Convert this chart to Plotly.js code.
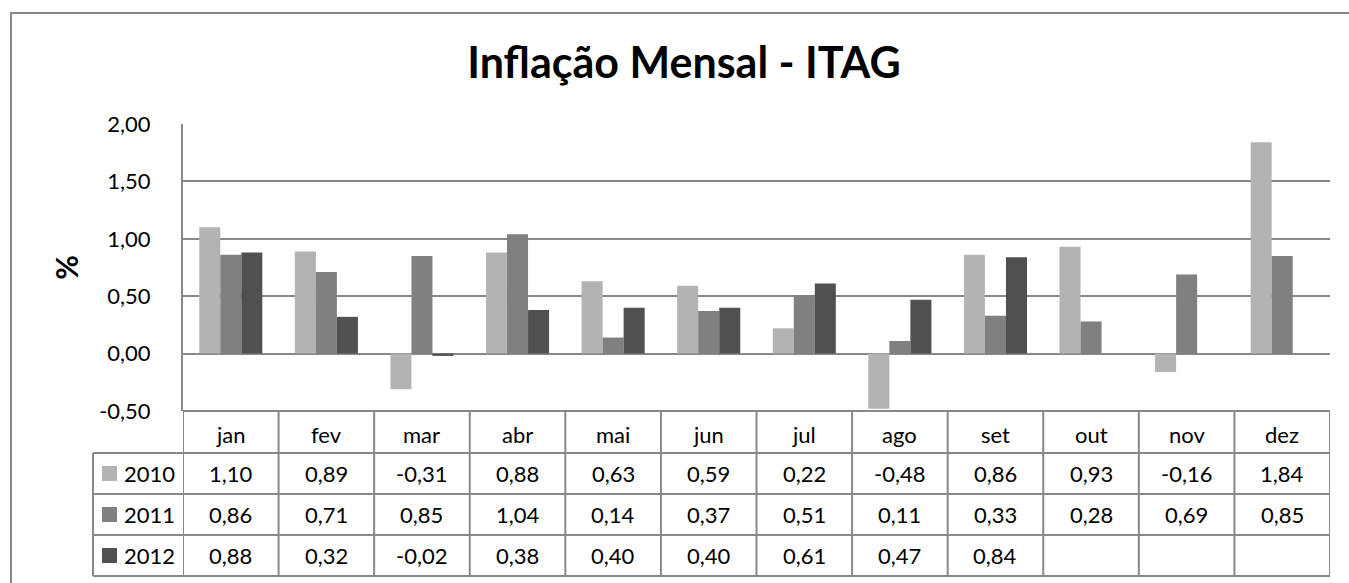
<!DOCTYPE html>
<html>
<head>
<meta charset="utf-8">
<script src="https://cdn.plot.ly/plotly-3.0.1.min.js"></script>
<style>html,body{margin:0;padding:0;background:#fff;}#chart{width:1349px;height:583px;}</style>
</head>
<body>
<div id="chart"></div>
<script>
const months = ['jan','fev','mar','abr','mai','jun','jul','ago','set','out','nov','dez'];
const seriesNames = ['2010','2011','2012'];
const v2010 = [1.10, 0.89, -0.31, 0.88, 0.63, 0.59, 0.22, -0.48, 0.86, 0.93, -0.16, 1.84];
const v2011 = [0.86, 0.71, 0.85, 1.04, 0.14, 0.37, 0.51, 0.11, 0.33, 0.28, 0.69, 0.85];
const v2012 = [0.88, 0.32, -0.02, 0.38, 0.40, 0.40, 0.61, 0.47, 0.84, null, null, null];
const seriesValues = [v2010, v2011, v2012];
const seriesColors = ['#b3b3b3', '#808080', '#505050'];
const yTicks = [-0.5, 0, 0.5, 1, 1.5, 2];

const W = 1349, Hc = 583;
const M = {l: 183, r: 19, t: 124, b: 172};
const PW = W - M.l - M.r, PH = Hc - M.t - M.b;
const FONT = 'Lato, "Liberation Sans", sans-serif';
const LINE = '#888888';
const TXT = 22;

function py(p) { return (Hc - M.b - p) / PH; }  // pixel y -> paper y
function px(p) { return (p - M.l) / PW; }       // pixel x -> paper x
function fmt(v) { return v.toFixed(2).replace('.', ','); }

const traces = seriesNames.map((name, i) => ({
  type: 'bar', name: name, x: months, y: seriesValues[i],
  marker: {color: seriesColors[i], line: {width: 0}},
  hoverinfo: 'x+y+name'
}));

// table geometry (pixels)
const rowTop = [411, 453, 494, 535, 576];
const tableLeft = 93;

const shapes = [];
const annotations = [];
// outer chart border
shapes.push({type: 'rect', xref: 'paper', yref: 'paper', x0: px(11), x1: px(1360), y0: py(13), y1: py(600),
  line: {color: LINE, width: 2}, layer: 'below'});
// table horizontal lines
shapes.push({type: 'line', xref: 'x', yref: 'paper', x0: -0.5, x1: months.length - 0.5, y0: py(rowTop[0]), y1: py(rowTop[0]), line: {color: LINE, width: 2}});
for (let r = 1; r < rowTop.length; r++) {
  shapes.push({type: 'line', xref: 'paper', yref: 'paper', x0: px(tableLeft), x1: 1, y0: py(rowTop[r]), y1: py(rowTop[r]), line: {color: LINE, width: 2}});
}
// table vertical lines
for (let k = 0; k <= months.length; k++) {
  shapes.push({type: 'line', xref: 'x', yref: 'paper', x0: k - 0.5, x1: k - 0.5,
    y0: py(rowTop[0]), y1: py(rowTop[rowTop.length - 1]), line: {color: LINE, width: 2}});
}
shapes.push({type: 'line', xref: 'paper', yref: 'paper', x0: px(tableLeft), x1: px(tableLeft),
  y0: py(rowTop[1]), y1: py(rowTop[rowTop.length - 1]), line: {color: LINE, width: 2}});

// category labels
months.forEach((m) => {
  annotations.push({xref: 'x', yref: 'paper', x: m, y: py((rowTop[0] + rowTop[1]) / 2 + 2),
    text: m, showarrow: false, font: {family: FONT, size: TXT, color: '#000'}, xanchor: 'center', yanchor: 'middle'});
});
// series rows
seriesNames.forEach((name, i) => {
  const ycPix = (rowTop[i + 1] + rowTop[i + 2]) / 2;
  const yc = py(ycPix);
  shapes.push({type: 'rect', xref: 'paper', yref: 'paper', x0: px(102), x1: px(117),
    y0: py(ycPix + 7.5), y1: py(ycPix - 7.5), fillcolor: seriesColors[i], line: {width: 0}});
  annotations.push({xref: 'paper', yref: 'paper', x: px(177), y: yc, text: name, showarrow: false,
    font: {family: FONT, size: TXT, color: '#000'}, xanchor: 'right', yanchor: 'middle'});
  seriesValues[i].forEach((v, k) => {
    if (v === null) return;
    annotations.push({xref: 'x', yref: 'paper', x: months[k], y: yc, text: fmt(v), showarrow: false,
      font: {family: FONT, size: TXT, color: '#000'}, xanchor: 'center', yanchor: 'middle'});
  });
});

const layout = {
  width: W, height: Hc,
  margin: M,
  paper_bgcolor: '#fff', plot_bgcolor: '#fff',
  separators: ',.',
  showlegend: false,
  barmode: 'group', bargap: 0.34, bargroupgap: 0,
  title: {text: '<b>Inflação Mensal - ITAG</b>', font: {family: FONT, size: 43, color: '#000'},
    x: 684 / W, xanchor: 'center', xref: 'container', y: 1 - 63 / Hc, yanchor: 'middle', yref: 'container'},
  xaxis: {type: 'category', range: [-0.5, months.length - 0.5], showticklabels: false, showgrid: false,
    zeroline: false, showline: false, ticks: '', fixedrange: true},
  yaxis: {range: [-0.5, 2.0], tickvals: yTicks, ticktext: yTicks.map(fmt), showgrid: true, gridcolor: LINE, gridwidth: 2,
    zeroline: true, zerolinecolor: LINE, zerolinewidth: 2, showline: true, linecolor: LINE, linewidth: 2,
    ticks: '', ticklabelstandoff: 26, tickfont: {family: FONT, size: TXT, color: '#000'},
    title: {text: '<b>%</b>', font: {family: FONT, size: 30, color: '#000'}, standoff: 12}},
  shapes: shapes,
  annotations: annotations
};

Plotly.newPlot('chart', traces, layout, {displayModeBar: false, staticPlot: true});
</script>
</body>
</html>
